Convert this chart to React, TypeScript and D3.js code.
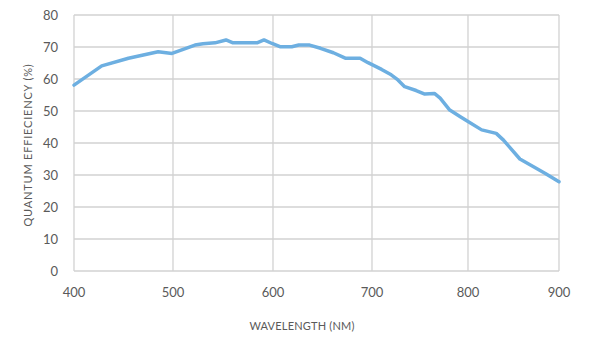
import React from "react";
import * as d3 from "d3";

const wavelengths = [400, 428, 455, 485, 499, 522, 530, 542, 553, 560, 584, 591, 599, 607, 619, 626, 637, 648, 661, 673, 688, 696, 710, 720, 727, 734, 746, 755, 765, 771, 781, 792, 800, 815, 831, 839, 857, 872, 885, 900];
const efficiency = [58.1, 64.1, 66.5, 68.5, 68.0, 70.6, 71.0, 71.3, 72.2, 71.3, 71.3, 72.2, 71.1, 70.1, 70.1, 70.6, 70.6, 69.6, 68.2, 66.5, 66.5, 65.1, 63.0, 61.3, 59.7, 57.6, 56.4, 55.3, 55.5, 54.0, 50.3, 48.2, 46.7, 44.1, 43.0, 40.9, 35.0, 32.6, 30.5, 27.9];
const xTicks = [400, 500, 600, 700, 800, 900];
const yTicks = [0, 10, 20, 30, 40, 50, 60, 70, 80];

const W = 600;
const H = 356;
const FONT = "Lato, 'Open Sans', sans-serif";
const TEXT = "#5a5a5a";
const GRID = "#d2d2d2";

export default function App() {
  const x = d3.scaleLinear().domain(xTicks).range([74, 173, 273, 372, 468, 559]);
  const y = d3.scaleLinear().domain([0, 80]).range([271, 15]);
  const data = wavelengths.map((w, i) => [w, efficiency[i]] as [number, number]);
  const line = d3
    .line<[number, number]>()
    .x((d) => x(d[0]))
    .y((d) => y(d[1]))
    .curve(d3.curveLinear);

  return (
    <svg width={W} height={H} style={{ position: "absolute", left: 0, top: 0, background: "#fff" }}>
      <g>
        {yTicks.map((t) => (
          <line key={"h" + t} x1={x(400)} x2={x(900)} y1={y(t)} y2={y(t)} stroke={GRID} strokeWidth={1.3} />
        ))}
        {xTicks.map((t) => (
          <line key={"v" + t} x1={x(t)} x2={x(t)} y1={y(0)} y2={y(80)} stroke={GRID} strokeWidth={1.3} />
        ))}
      </g>
      <path d={line(data) || ""} fill="none" stroke="#6dafe1" strokeWidth={3.5} strokeLinejoin="round" strokeLinecap="round" />
      <g fontFamily={FONT} fontSize={13} fill={TEXT}>
        {yTicks.map((t) => (
          <text key={"yl" + t} x={58} y={y(t)} dy="0.35em" textAnchor="end">
            {t}
          </text>
        ))}
        {xTicks.map((t) => (
          <text key={"xl" + t} x={x(t)} y={292} dy="0.35em" textAnchor="middle">
            {t}
          </text>
        ))}
      </g>
      <text x={302} y={326.5} dy="0.35em" textAnchor="middle" fontFamily={FONT} fontSize={11} letterSpacing={0.2} fill={TEXT}>
        WAVELENGTH (NM)
      </text>
      <text
        transform={`translate(28.5, ${145}) rotate(-90)`}
        dy="0.35em"
        textAnchor="middle"
        fontFamily={FONT}
        fontSize={11}
        letterSpacing={0.8}
        fill={TEXT}
      >
        QUANTUM EFFIECIENCY (%)
      </text>
    </svg>
  );
}
